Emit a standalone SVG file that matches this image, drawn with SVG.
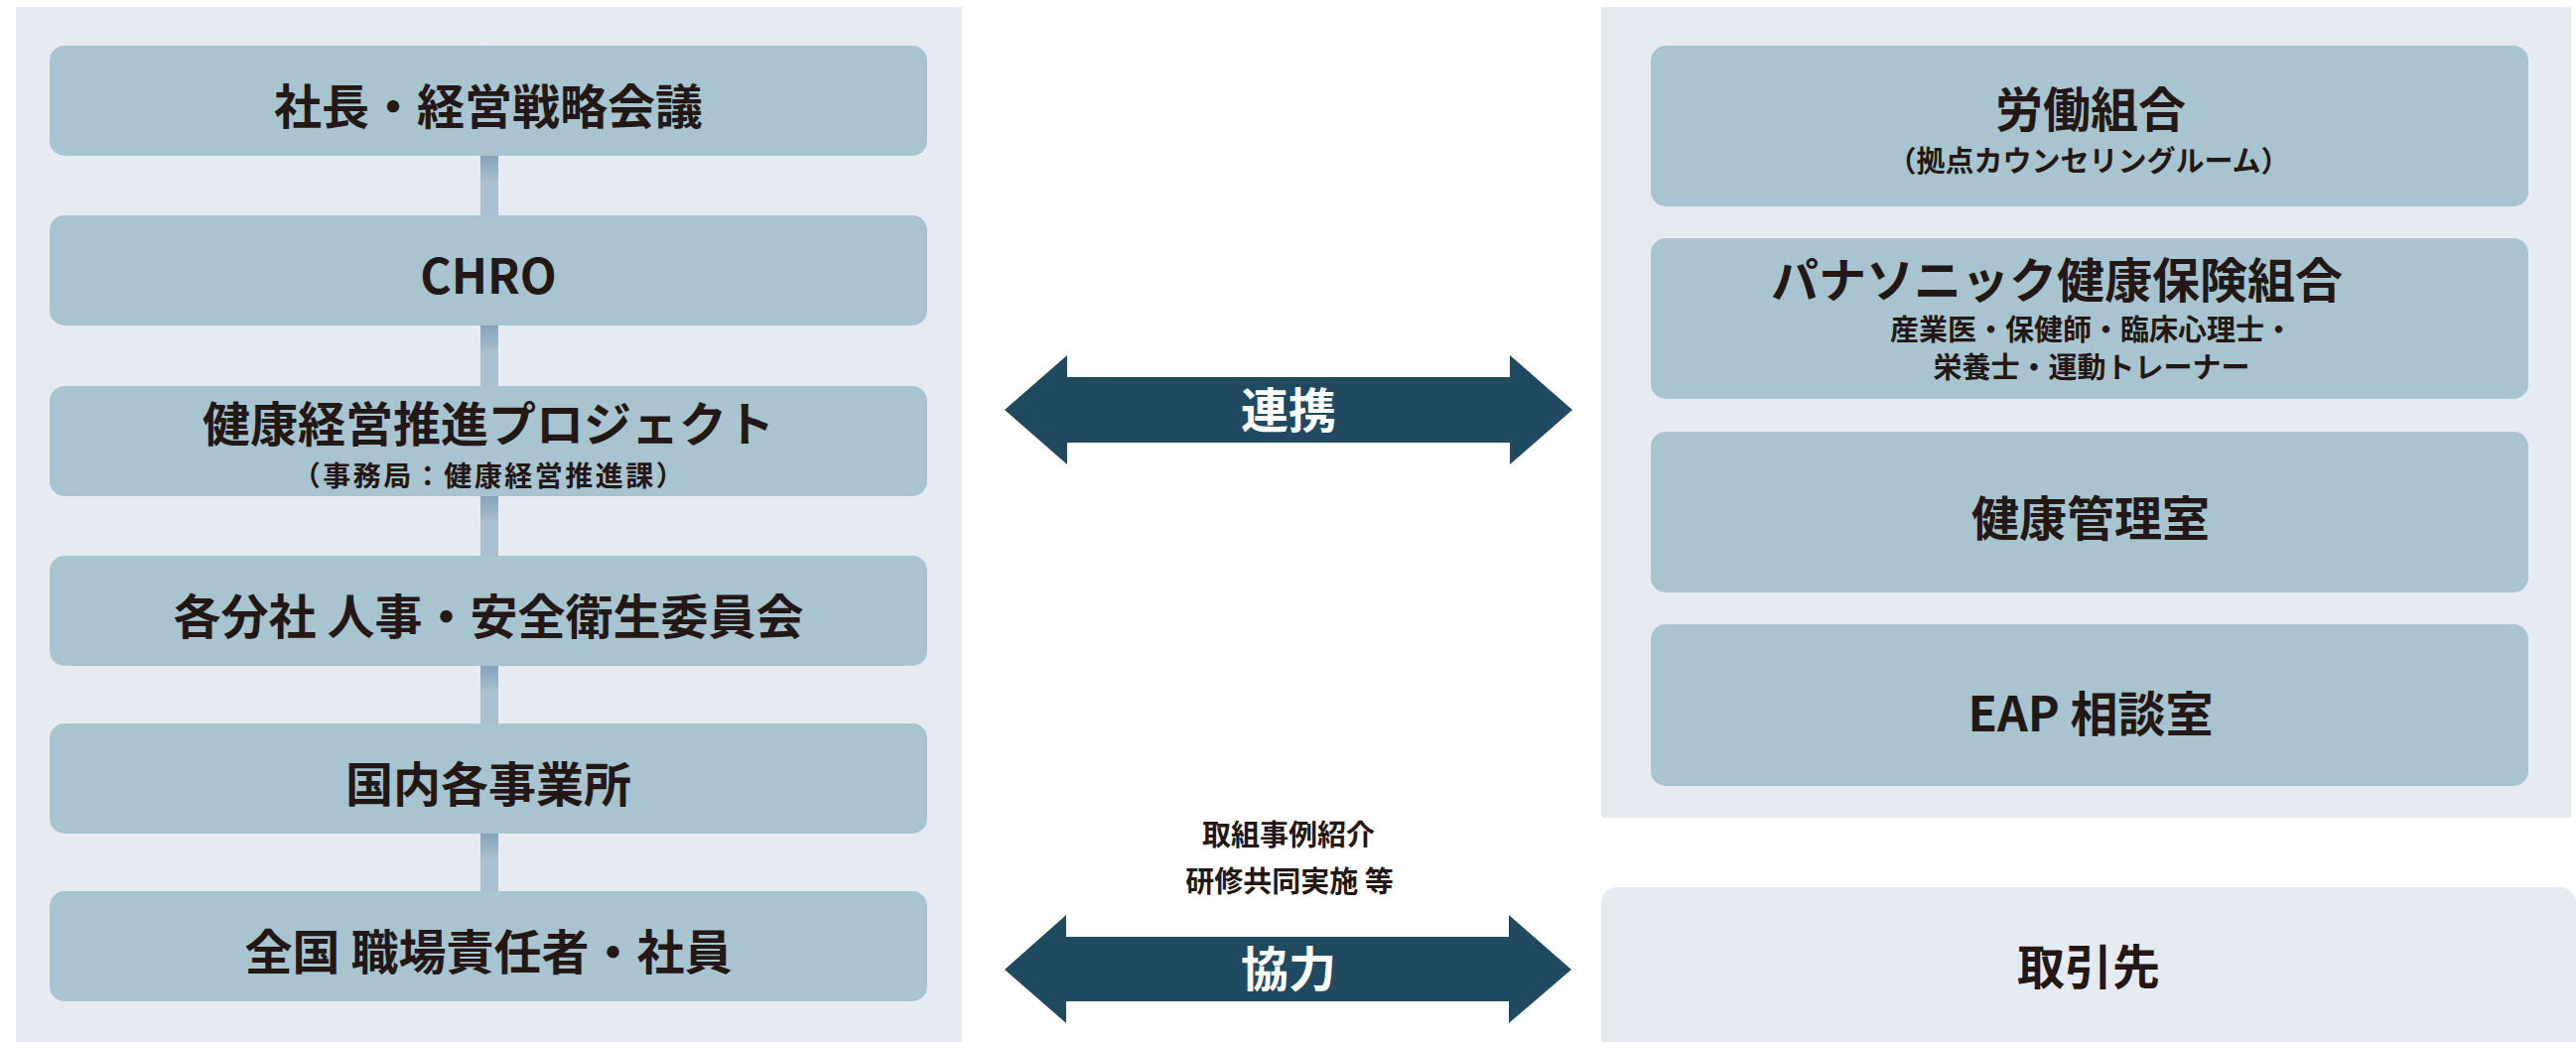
<svg xmlns="http://www.w3.org/2000/svg" width="2595" height="1050" viewBox="0 0 2595 1050">
  <defs>
    <linearGradient id="conn" x1="0" y1="0" x2="0" y2="1">
      <stop offset="0" stop-color="#86a4b8"/>
      <stop offset="0.45" stop-color="#a8c0cf"/>
      <stop offset="1" stop-color="#a8c0cf"/>
    </linearGradient>
    <style>
      .panel { fill: #e6ebf2; }
      .node { fill: #a7c4cf; }
      .t { font-family: "Noto Sans CJK JP", "Noto Sans", sans-serif; font-weight: 700; fill: #231815; text-anchor: middle; }
      .big { font-size: 48px; }
      .small { font-size: 29px; }
      .sub { font-size: 28px; letter-spacing: 2.5px; }
      .arrow { fill: #1f4a60; }
      .w { fill: #ffffff; font-size: 48px; }
      .seg { fill: url(#conn); }
    </style>
  </defs>

  <!-- panels -->
  <rect class="panel" x="16" y="7" width="953" height="1043"/>
  <rect class="panel" x="1613" y="7" width="977" height="817"/>

  <!-- connectors -->
  <g id="connectors">
    <rect class="seg" x="484" y="157" width="18" height="60"/>
    <rect class="seg" x="484" y="328" width="18" height="61"/>
    <rect class="seg" x="484" y="500" width="18" height="60"/>
    <rect class="seg" x="484" y="671" width="18" height="58"/>
    <rect class="seg" x="484" y="840" width="18" height="58"/>
    <g id="renkei">
      <polygon class="arrow" points="1012,413 1075,358 1075,380 1521,380 1521,358 1584,413 1521,468 1521,446 1075,446 1075,468"/>
      <text class="t w" x="1298" y="431">連携</text>
    </g>
    <g id="kyoryoku">
      <polygon class="arrow" points="1012,977 1074,922 1074,944 1520,944 1520,922 1583,977 1520,1031 1520,1009 1074,1009 1074,1031"/>
      <text class="t w" x="1298" y="994">協力</text>
      <text class="t small" x="1298" y="852">取組事例紹介</text>
      <text class="t small" x="1299" y="899">研修共同実施 等</text>
    </g>
  </g>

  <!-- left nodes -->
  <g id="n-president">
    <rect class="node" x="50" y="46" width="884" height="111" rx="15"/>
    <rect x="484" y="46" width="18" height="111" fill="#adc3d2" opacity="0.7"/>
    <text class="t big" x="492" y="125">社長・経営戦略会議</text>
  </g>
  <g id="n-chro">
    <rect class="node" x="50" y="217" width="884" height="111" rx="15"/>
    <text class="t big" x="492" y="296">CHRO</text>
  </g>
  <g id="n-project">
    <rect class="node" x="50" y="389" width="884" height="111" rx="15"/>
    <text class="t big" x="492" y="445">健康経営推進プロジェクト</text>
    <text class="t sub" x="493" y="490">（事務局：健康経営推進課）</text>
  </g>
  <g id="n-committee">
    <rect class="node" x="50" y="560" width="884" height="111" rx="15"/>
    <text class="t big" x="492" y="639">各分社 人事・安全衛生委員会</text>
  </g>
  <g id="n-offices">
    <rect class="node" x="50" y="729" width="884" height="111" rx="15"/>
    <text class="t big" x="492" y="808">国内各事業所</text>
  </g>
  <g id="n-employees">
    <rect class="node" x="50" y="898" width="884" height="111" rx="15"/>
    <text class="t big" x="492" y="977">全国 職場責任者・社員</text>
  </g>

  <!-- right nodes -->
  <g id="n-union">
    <rect class="node" x="1663" y="46" width="884" height="162" rx="15"/>
    <text class="t big" x="2106" y="128">労働組合</text>
    <text class="t small" x="2104" y="173">（拠点カウンセリングルーム）</text>
  </g>
  <g id="n-kenpo">
    <rect class="node" x="1663" y="240" width="884" height="162" rx="15"/>
    <text class="t big" x="2072" y="300">パナソニック健康保険組合</text>
    <text class="t small" x="2107" y="343">産業医・保健師・臨床心理士・</text>
    <text class="t small" x="2107" y="381">栄養士・運動トレーナー</text>
  </g>
  <g id="n-health">
    <rect class="node" x="1663" y="435" width="884" height="162" rx="15"/>
    <text class="t big" x="2106" y="540">健康管理室</text>
  </g>
  <g id="n-eap">
    <rect class="node" x="1663" y="629" width="884" height="163" rx="15"/>
    <text class="t big" x="2106" y="737">EAP 相談室</text>
  </g>
  <g id="n-partners">
    <rect class="panel" x="1613" y="894" width="982" height="180" rx="16"/>
    <text class="t big" x="2104" y="992">取引先</text>
  </g>
</svg>
